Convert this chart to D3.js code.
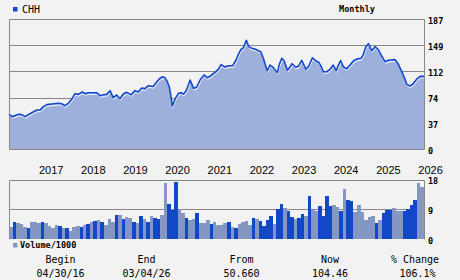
<!DOCTYPE html>
<html>
<head>
<meta charset="utf-8">
<script src="https://cdn.jsdelivr.net/npm/d3@7/dist/d3.min.js"></script>
<style>
  body { margin: 0; background: #f2f2f2; }
  svg { display: block; }
  .mono { font-family: "DejaVu Sans Mono", monospace; fill: #000; }
  .sans { font-family: "Liberation Sans", Arial, sans-serif; fill: #000; }
</style>
</head>
<body>
<div id="chart"></div>
<script>
// price line
var priceDates = [
  "2016-04-30","2016-05-24","2016-06-21","2016-07-19","2016-08-18","2016-09-16","2016-10-15","2016-11-13",
  "2016-12-27","2017-01-24","2017-02-22","2017-03-24","2017-05-06","2017-07-02","2017-07-31","2017-08-23",
  "2017-09-26","2017-10-25","2017-11-23","2017-12-21","2018-01-25","2018-02-23","2018-03-17","2018-05-29",
  "2018-06-27","2018-07-25","2018-08-24","2018-09-22","2018-10-20","2018-11-19","2018-12-17","2019-01-15",
  "2019-02-14","2019-03-23","2019-04-27","2019-05-25","2019-06-24","2019-07-22","2019-08-19","2019-10-02",
  "2019-11-01","2019-11-29","2019-12-22","2020-01-11","2020-01-31","2020-02-17","2020-03-01","2020-03-15",
  "2020-04-08","2020-05-07","2020-05-27","2020-06-19","2020-07-12","2020-08-01","2020-08-16","2020-08-31",
  "2020-09-14","2020-10-13","2020-11-10","2020-12-15","2021-01-12","2021-02-11","2021-03-19","2021-04-17",
  "2021-05-11","2021-06-15","2021-07-13","2021-08-20","2021-09-18","2021-10-08","2021-10-29","2021-11-21",
  "2021-12-16","2022-01-06","2022-02-01","2022-03-01","2022-03-30","2022-04-20","2022-05-12","2022-05-30",
  "2022-06-16","2022-07-09","2022-08-07","2022-09-11","2022-09-28","2022-10-19","2022-11-08","2022-12-07",
  "2022-12-24","2023-01-16","2023-02-14","2023-03-12","2023-04-10","2023-05-02","2023-05-17","2023-06-12",
  "2023-07-11","2023-08-09","2023-09-07","2023-09-30","2023-10-14","2023-11-12","2023-12-11","2024-01-08",
  "2024-02-03","2024-02-21","2024-03-12","2024-04-04","2024-05-03","2024-06-01","2024-06-30","2024-07-30",
  "2024-09-05","2024-09-25","2024-10-16","2024-11-07","2024-12-06","2025-01-04","2025-02-02","2025-02-25",
  "2025-04-01","2025-04-29","2025-06-26","2025-07-25","2025-08-23","2025-09-15","2025-10-06","2025-11-04",
  "2025-12-03","2026-01-01","2026-01-29","2026-03-04"
];
var priceValues = [
  50.66,46.5,48,50,49.5,46.5,49.5,52.2,
  56,56,60.9,63.8,64.7,65.7,65.2,62.3,
  65.7,71.5,79.6,78.6,82,79.6,81,81,
  76.7,78.1,78.6,83.9,73.8,77.7,72.4,79.1,
  81.5,78.1,83.9,82,87.7,86.8,91,89.8,
  96.8,101.7,104,102.6,96.8,89.6,77.7,61.9,
  72,80,81,79,83.4,92,99.3,93,
  87.3,89.2,99.3,106.5,102.6,105.4,110.3,114.6,
  121.3,118,119.8,119.8,128,136.2,142.8,145.7,
  156.3,147.2,144.8,143.8,141.4,140,130.5,120.8,
  112.6,120.8,117,109.8,121.8,130.5,127,113.2,
  117,122.7,118,119,127.6,119.8,114.6,119.8,
  131.3,127,124.1,117,111.2,111.2,114.6,120.8,
  112.6,120.8,127,118.4,115.5,120.8,126.6,129.5,
  130.5,136.2,147.2,151.5,141.4,147.2,142.8,135.2,
  125.6,127.6,128.5,121.8,111.2,102.6,93,90.6,
  94.5,100.7,104.6,104.46
];

// monthly volume (thousands), first bar = May 2016
var volumeStart = "2016-05-01";
var volumeValues = [
  3.5,5.06,4.76,4.45,3.5,3.2,5.06,5.06,4.76,5.06,
  4.76,3.8,3.2,4.1,3.8,3.2,3.2,2.3,3.5,3.8,
  3.5,4.1,4.45,5.06,5.36,5.67,5.06,4.1,5.97,5.06,
  7.2,7.2,5.97,6.6,6.3,5.06,4.76,6.9,5.97,5.06,
  6.9,6.3,5.97,7.2,16.9,10.5,8.7,17.2,9.0,7.8,
  6.3,5.67,5.97,7.8,4.76,4.76,5.67,4.45,5.06,4.15,
  4.15,4.76,5.06,3.5,3.2,4.45,5.06,5.36,4.1,6.27,
  5.97,5.36,3.85,5.67,6.9,4.45,9.0,10.5,9.3,8.4,
  6.6,5.97,6.27,7.5,6.9,13.0,8.7,8.4,9.9,6.9,
  13.0,9.9,10.4,9.6,8.4,15.2,11.9,11.4,8.1,10.4,
  8.1,5.8,6.6,6.9,4.76,5.67,7.8,8.7,8.7,9.3,
  8.4,8.4,8.4,9.0,10.4,11.7,16.9,15.7,11.7
];
// 1 = up month (dark bar), 0 = down month
var volumeUp = [
  0,1,0,0,0,1,0,0,0,1,
  0,0,0,0,1,0,1,0,0,0,
  1,0,1,0,1,0,1,0,0,0,
  1,0,1,0,0,1,0,1,0,1,
  0,1,1,0,0,1,1,1,0,0,
  1,0,0,1,0,0,0,1,0,0,
  0,0,1,0,1,0,0,0,0,1,
  0,1,1,1,1,0,1,1,0,1,
  1,0,1,1,0,1,0,0,1,1,
  1,1,0,0,1,0,1,1,0,0,
  0,0,0,0,1,0,1,1,1,0,
  0,0,1,1,1,1,0,0,0
];

var yearLabels = ["2017","2018","2019","2020","2021","2022","2023","2024","2025","2026"];
var priceTicks = [0, 37, 74, 112, 149, 187];
var volumeTicks = [0, 9, 18];
var summaryHeads = ["Begin", "End", "From", "Now", "% Change"];
var summaryVals = ["04/30/16", "03/04/26", "50.660", "104.46", "106.1%"];

var W = 460, H = 280;
var left = 9, right = 424;
var parse = d3.timeParse("%Y-%m-%d");

var svg = d3.select("#chart").append("svg")
    .attr("width", W)
    .attr("height", H);

svg.append("rect").attr("width", W).attr("height", H).attr("fill", "#f2f2f2");

var x = d3.scaleTime()
    .domain([parse("2016-04-30"), parse("2026-03-04")])
    .range([left, right]);

var y = d3.scaleLinear().domain([0, 187]).range([149, 19]);
var yv = d3.scaleLinear().domain([0, 18]).range([239, 179.5]);

var px = function(v) { return Math.round(v) + 0.5; };

// price gridlines behind the area
svg.append("g").selectAll("line")
  .data(priceTicks.slice(1, -1))
  .enter().append("line")
    .attr("x1", left).attr("x2", right)
    .attr("y1", function(d) { return px(y(d)); })
    .attr("y2", function(d) { return px(y(d)); })
    .attr("stroke", "#878787");

var pts = priceDates.map(function(d, i) { return [parse(d), priceValues[i]]; });

svg.append("path")
    .datum(pts)
    .attr("fill", "#9db0dc")
    .attr("d", d3.area()
      .x(function(d) { return x(d[0]); })
      .y0(y(0))
      .y1(function(d) { return y(d[1]); }));

var line = d3.line()
    .x(function(d) { return x(d[0]); })
    .y(function(d) { return y(d[1]); });

svg.append("path")
    .datum(pts)
    .attr("fill", "none")
    .attr("stroke", "#ffffff")
    .attr("stroke-width", 1)
    .attr("transform", "translate(0.5,1.6)")
    .attr("d", line);

svg.append("path")
    .datum(pts)
    .attr("fill", "none")
    .attr("stroke", "#1247cc")
    .attr("stroke-width", 1.6)
    .attr("stroke-linejoin", "round")
    .attr("d", line);

// price frame
svg.append("path")
    .attr("fill", "none")
    .attr("stroke", "#878787")
    .attr("d", "M" + (left + 0.5) + "," + px(y(0)) + "V" + px(y(187)) + "H" + (right + 0.5) + "V" + px(y(0)) + "H" + (left + 0.5));

svg.append("g").selectAll("text")
  .data(priceTicks)
  .enter().append("text")
    .attr("class", "mono")
    .attr("font-size", "8.5px")
    .attr("font-weight", "bold")
    .attr("x", 428)
    .attr("y", function(d) { return y(d) + 4.5; })
    .text(function(d) { return d; });

// year labels
svg.append("g").selectAll("text")
  .data(yearLabels)
  .enter().append("text")
    .attr("class", "sans")
    .attr("font-size", "11px")
    .attr("x", function(d) { return x(parse(d + "-01-01")) + 1.5; })
    .attr("y", 174)
    .text(function(d) { return d; });

// volume panel
svg.append("line")
    .attr("x1", left).attr("x2", right)
    .attr("y1", px(yv(9))).attr("y2", px(yv(9)))
    .attr("stroke", "#878787");

var months = d3.timeMonth.range(parse(volumeStart), d3.timeMonth.offset(parse(volumeStart), volumeValues.length));

svg.append("g").selectAll("rect")
  .data(volumeValues)
  .enter().append("rect")
    .attr("x", function(d, i) { return x(months[i]); })
    .attr("width", function(d, i) {
      return Math.min(x(d3.timeMonth.offset(months[i], 1)), right) - x(months[i]);
    })
    .attr("y", function(d) { return yv(d); })
    .attr("height", function(d) { return yv(0) - yv(d); })
    .attr("fill", function(d, i) { return volumeUp[i] ? "#1247c8" : "#8497c3"; })
    .attr("shape-rendering", "crispEdges");

svg.append("path")
    .attr("fill", "none")
    .attr("stroke", "#878787")
    .attr("d", "M" + (left + 0.5) + "," + px(yv(0)) + "V" + px(yv(18)) + "H" + (right + 0.5) + "V" + px(yv(0)));

svg.append("g").selectAll("text")
  .data(volumeTicks)
  .enter().append("text")
    .attr("class", "mono")
    .attr("font-size", "8.5px")
    .attr("font-weight", "bold")
    .attr("x", 428)
    .attr("y", function(d) { return yv(d) + 4.5; })
    .text(function(d) { return d; });

// legends
svg.append("rect").attr("x", 13).attr("y", 7).attr("width", 4.5).attr("height", 4.5).attr("fill", "#1247cc");
svg.append("text").attr("class", "mono").attr("font-size", "10px")
    .attr("x", 22).attr("y", 13).text("CHH");
svg.append("text").attr("class", "mono").attr("font-size", "8.5px").attr("font-weight", "bold")
    .attr("x", 357).attr("y", 12).attr("text-anchor", "middle").text("Monthly");

svg.append("rect").attr("x", 13).attr("y", 243).attr("width", 4.5).attr("height", 4.5).attr("fill", "#8497c3");
svg.append("text").attr("class", "mono").attr("font-size", "8.5px").attr("font-weight", "bold")
    .attr("x", 20).attr("y", 248).text("Volume/1000");

// summary row
var sumX = [60.5, 146.5, 241.5, 330, 415];
svg.append("g").selectAll("text")
  .data(summaryHeads)
  .enter().append("text")
    .attr("class", "mono")
    .attr("font-size", "10px")
    .attr("text-anchor", "middle")
    .attr("x", function(d, i) { return sumX[i]; })
    .attr("y", 263)
    .text(function(d) { return d; });

svg.append("g").selectAll("text")
  .data(summaryVals)
  .enter().append("text")
    .attr("class", "mono")
    .attr("font-size", "10px")
    .attr("text-anchor", "middle")
    .attr("x", function(d, i) { return sumX[i] + (i == 4 ? 2.5 : 0); })
    .attr("y", 276.5)
    .text(function(d) { return d; });
</script>
</body>
</html>
